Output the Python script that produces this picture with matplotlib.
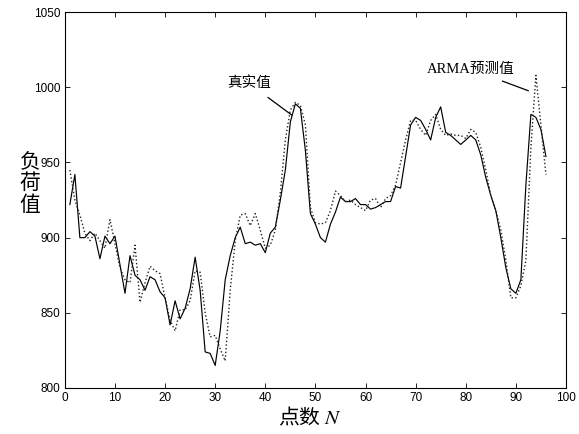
import numpy as np
import matplotlib
matplotlib.use("Agg")
from matplotlib import pyplot as plt

plt.rcParams['font.family'] = ['Noto Sans CJK SC', 'DejaVu Sans']
plt.rcParams['mathtext.fontset'] = 'stix'

# point index 1..96
points = list(range(1, 97))

# 真实值 (solid)
actual = [922, 942, 900, 900, 904, 901, 886, 901, 896, 901,
          882, 863, 888, 875, 872, 865, 874, 872, 864, 860,
          842, 858, 846, 853, 866, 887, 865, 824, 823, 815,
          838, 872, 888, 900, 907, 896, 897, 895, 896, 890,
          903, 907, 925, 945, 977, 989, 986, 958, 916, 909,
          900, 897, 909, 917, 927, 924, 924, 926, 922, 922,
          919, 920, 922, 924, 924, 934, 933, 954, 975, 980,
          978, 972, 965, 980, 987, 970, 968, 965, 962, 965,
          968, 965, 955, 940, 928, 918, 900, 880, 866, 863,
          872, 935, 982, 980, 972, 954]

# ARMA预测值 (dotted)
predicted = [945, 925, 915, 903, 898, 903, 898, 893, 912, 896,
             880, 872, 870, 895, 857, 870, 881, 878, 876, 860,
             845, 838, 852, 852, 858, 878, 877, 850, 834, 835,
             826, 818, 865, 898, 915, 916, 908, 916, 905, 893,
             895, 905, 930, 965, 985, 990, 988, 975, 920, 910,
             909, 910, 918, 931, 928, 924, 925, 922, 920, 918,
             925, 926, 920, 926, 928, 935, 950, 965, 978, 978,
             972, 968, 978, 982, 972, 968, 969, 968, 968, 966,
             972, 970, 960, 945, 928, 918, 905, 885, 860, 860,
             868, 885, 960, 1008, 975, 942]

xticks = [0, 10, 20, 30, 40, 50, 60, 70, 80, 90, 100]
yticks = [800, 850, 900, 950, 1000, 1050]

fig = plt.figure(figsize=(5.79, 4.34), dpi=100)
ax = fig.add_axes([0.112, 0.106, 0.8655, 0.866])

ax.plot(points, actual, color="black", linestyle="-", linewidth=0.85)
ax.plot(points, predicted, color="#222222", linestyle=":", linewidth=1.0)

ax.set_xlim(0, 100)
ax.set_ylim(800, 1050)
ax.set_xticks(xticks)
ax.set_yticks(yticks)
ax.tick_params(direction="in", length=3.5, width=0.6, top=True, right=True,
               labelsize=8.5, pad=3)
for lab in ax.get_xticklabels() + ax.get_yticklabels():
    lab.set_family("Liberation Sans")
for sp in ax.spines.values():
    sp.set_linewidth(0.8)

# annotations
serif_cjk = ['Liberation Serif', 'Noto Sans CJK SC']
ax.annotate("真实值", xy=(45.3, 981.5), xytext=(36.8, 1002.5),
            fontsize=10.5, ha="center", va="center", family=serif_cjk,
            arrowprops=dict(arrowstyle="-", color="black", lw=0.9,
                            shrinkA=5, shrinkB=0))
ax.annotate("ARMA预测值", xy=(92.5, 997.7), xytext=(81, 1012),
            fontsize=10.5, ha="center", va="center", family=serif_cjk,
            arrowprops=dict(arrowstyle="-", color="black", lw=0.9,
                            shrinkA=5, shrinkB=0))

fig.text(30 / 579, 1 - 183 / 434, "负\n荷\n值", fontsize=15,
         ha="center", va="center", linespacing=1.0)
fig.text(310 / 579, 1 - 418 / 434, "点数 $N$", fontsize=15,
         ha="center", va="center")

fig.savefig("out.png", dpi=100)
